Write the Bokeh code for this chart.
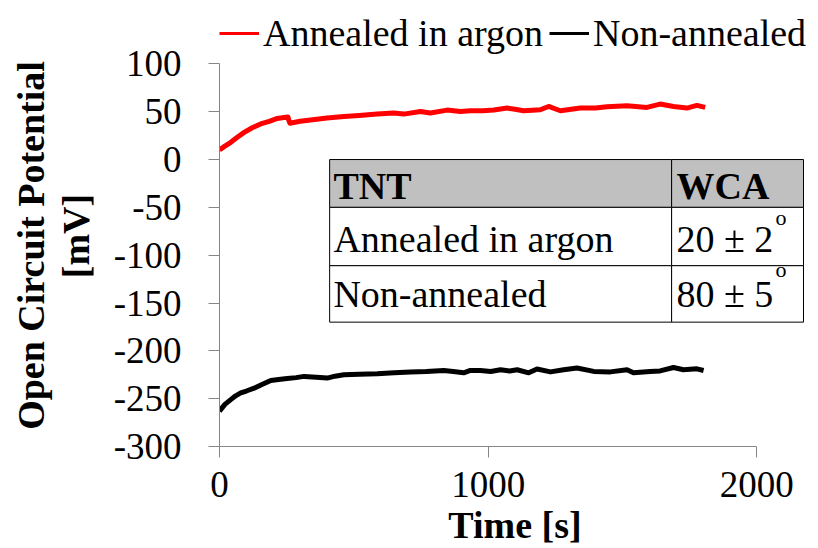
from bokeh.plotting import figure
from bokeh.models import Range1d, Legend, LegendItem, FixedTicker, LinearAxis
from bokeh.core.properties import value
from bokeh.embed import file_html
from bokeh.resources import INLINE

# ---- data ----
t_annealed = [0, 20, 42, 65, 92, 120, 153, 185, 215, 240, 255, 258, 262, 300, 339, 400, 463, 520,
              587, 649, 686, 748, 785, 847, 897, 934, 980, 1021, 1071, 1100, 1132, 1194, 1225, 1269,
              1343, 1400, 1442, 1517, 1591, 1640, 1690, 1740, 1777, 1808]
v_annealed = [10, 14, 18, 23, 28.4, 33, 37.2, 40, 43, 44, 44.5, 41, 38, 40, 41.3, 43.5, 45, 46,
              47.5, 48.6, 47.5, 50.3, 48.6, 51.7, 50.3, 51, 51, 51.7, 53.8, 52.5, 51, 52, 55.5, 51,
              53.8, 54, 55.2, 56.2, 54.5, 58, 55.5, 53.8, 56.6, 54.5]

t_non = [0, 20, 42, 60, 79, 100, 129, 160, 191, 220, 252, 285, 315, 360, 401, 430, 463, 520, 587,
         650, 711, 770, 835, 870, 909, 934, 971, 1010, 1046, 1080, 1108, 1151, 1182, 1232, 1281,
         1331, 1393, 1455, 1517, 1541, 1603, 1640, 1690, 1727, 1777, 1802]
v_non = [-263, -256, -251, -247, -244, -242, -239, -235, -231, -230, -229, -228, -226.7, -227.5,
         -228.5, -226.5, -225, -224.5, -224, -223, -222, -221.5, -220.5, -221.5, -223, -220.5,
         -220.5, -221.5, -219.8, -221, -219.8, -223, -219, -222, -219.8, -218, -221.5, -222,
         -219.8, -223, -221.5, -221, -217.4, -219.8, -218.8, -220.5]

series_names = ["Annealed in argon", "Non-annealed"]
x_ticks = [0, 1000, 2000]
y_ticks = [-300, -250, -200, -150, -100, -50, 0, 50, 100]

table_header = ["TNT", "WCA"]
table_col1 = ["Annealed in argon", "Non-annealed"]
table_col2 = ["20 \u00b1 2", "80 \u00b1 5"]
table_sup = ["o", "o"]

FONT = "Liberation Serif"
AXIS_GRAY = "#868686"
NAN = float("nan")
NBSP = "\u00a0"

p = figure(width=818, height=548, output_backend="svg", toolbar_location=None,
           x_range=Range1d(0, 2200), y_range=Range1d(-300, 160),
           min_border_left=219, min_border_right=8, min_border_top=6, min_border_bottom=100)
p.outline_line_color = None
p.xgrid.visible = False
p.ygrid.visible = False

# data lines
p.line(t_annealed, v_annealed, line_color="#ff0000", line_width=5, line_join="round")
p.line(t_non, v_non, line_color="#000000", line_width=5, line_join="round")

# legend proxies (thinner lines, nothing drawn in the plot)
r_leg1 = p.line([NAN], [NAN], line_color="#ff0000", line_width=3)
r_leg2 = p.line([NAN], [NAN], line_color="#000000", line_width=3)
legend = Legend(items=[LegendItem(label=series_names[0], renderers=[r_leg1]),
                       LegendItem(label=series_names[1], renderers=[r_leg2])],
                orientation="horizontal", location=(0, 391),
                glyph_width=40, label_standoff=4, spacing=6, padding=0, margin=0,
                border_line_color=None, background_fill_alpha=0,
                label_text_font=FONT, label_text_font_size="38px", label_text_color="black")
p.add_layout(legend, "center")

# table
tl, tdiv, tr = 410, 1683, 2174
ty0, ty1, ty2, ty3 = 0, -50, -111, -170
p.quad(left=[tl, tdiv], right=[tdiv, tr], top=[ty0, ty0], bottom=[ty1, ty1],
       fill_color="#c0c0c0", line_color="black", line_width=1)
p.quad(left=[tl, tdiv, tl, tdiv], right=[tdiv, tr, tdiv, tr],
       top=[ty1, ty1, ty2, ty2], bottom=[ty2, ty2, ty3, ty3],
       fill_color="white", line_color="black", line_width=1)
p.text(x=[424, 1701], y=[-27.3, -27.3], text=table_header, text_font=value(FONT),
       text_font_size="38px", text_font_style="bold", text_baseline="alphabetic", text_color="black")
p.text(x=[424, 424], y=[-83.5, -140.8], text=table_col1, text_font=value(FONT),
       text_font_size="38px", text_baseline="alphabetic", text_color="black")
p.text(x=[1701, 1701], y=[-83.5, -140.8], text=table_col2, text_font=value(FONT),
       text_font_size="38px", text_baseline="alphabetic", text_color="black")
p.text(x=[2070, 2070], y=[-60.1, -115.3], text=table_sup, text_font=value(FONT),
       text_font_size="22px", text_baseline="alphabetic", text_color="black")

# axes
def style_axis(ax):
    ax.axis_line_color = AXIS_GRAY
    ax.axis_line_width = 1
    ax.major_tick_line_color = AXIS_GRAY
    ax.major_tick_in = 0
    ax.major_tick_out = 11
    ax.minor_tick_line_color = None
    ax.major_label_text_font = FONT
    ax.major_label_text_font_size = "37px"
    ax.major_label_text_color = "black"
    ax.axis_label_text_font = FONT
    ax.axis_label_text_font_size = "38px"
    ax.axis_label_text_font_style = "bold"
    ax.axis_label_text_color = "black"

style_axis(p.xaxis[0])
style_axis(p.yaxis[0])

p.xaxis[0].ticker = FixedTicker(ticks=x_ticks)
p.xaxis[0].bounds = (0, 2000)
p.xaxis[0].major_label_standoff = 14
p.xaxis[0].axis_label = "Time [s]"
p.xaxis[0].axis_label_standoff = 4

p.yaxis[0].ticker = FixedTicker(ticks=y_ticks)
p.yaxis[0].bounds = (-300, 100)
p.yaxis[0].major_label_standoff = 27
p.yaxis[0].major_label_overrides = {v: str(v) for v in y_ticks}
p.yaxis[0].axis_label = "[mV]" + NBSP * 2
p.yaxis[0].axis_label_standoff = 14

# outer axis carrying the first line of the y-axis title
outer = LinearAxis(ticker=FixedTicker(ticks=[]), bounds=(-300, 100), axis_line_color=None,
                   major_tick_line_color=None, minor_tick_line_color=None,
                   major_label_text_font_size="0px",
                   axis_label="Open Circuit Potential" + NBSP * 4, axis_label_standoff=0,
                   axis_label_text_font=FONT, axis_label_text_font_size="38px",
                   axis_label_text_font_style="bold", axis_label_text_color="black")
p.add_layout(outer, "left")

open("out.html", "w").write(file_html(p, INLINE))
